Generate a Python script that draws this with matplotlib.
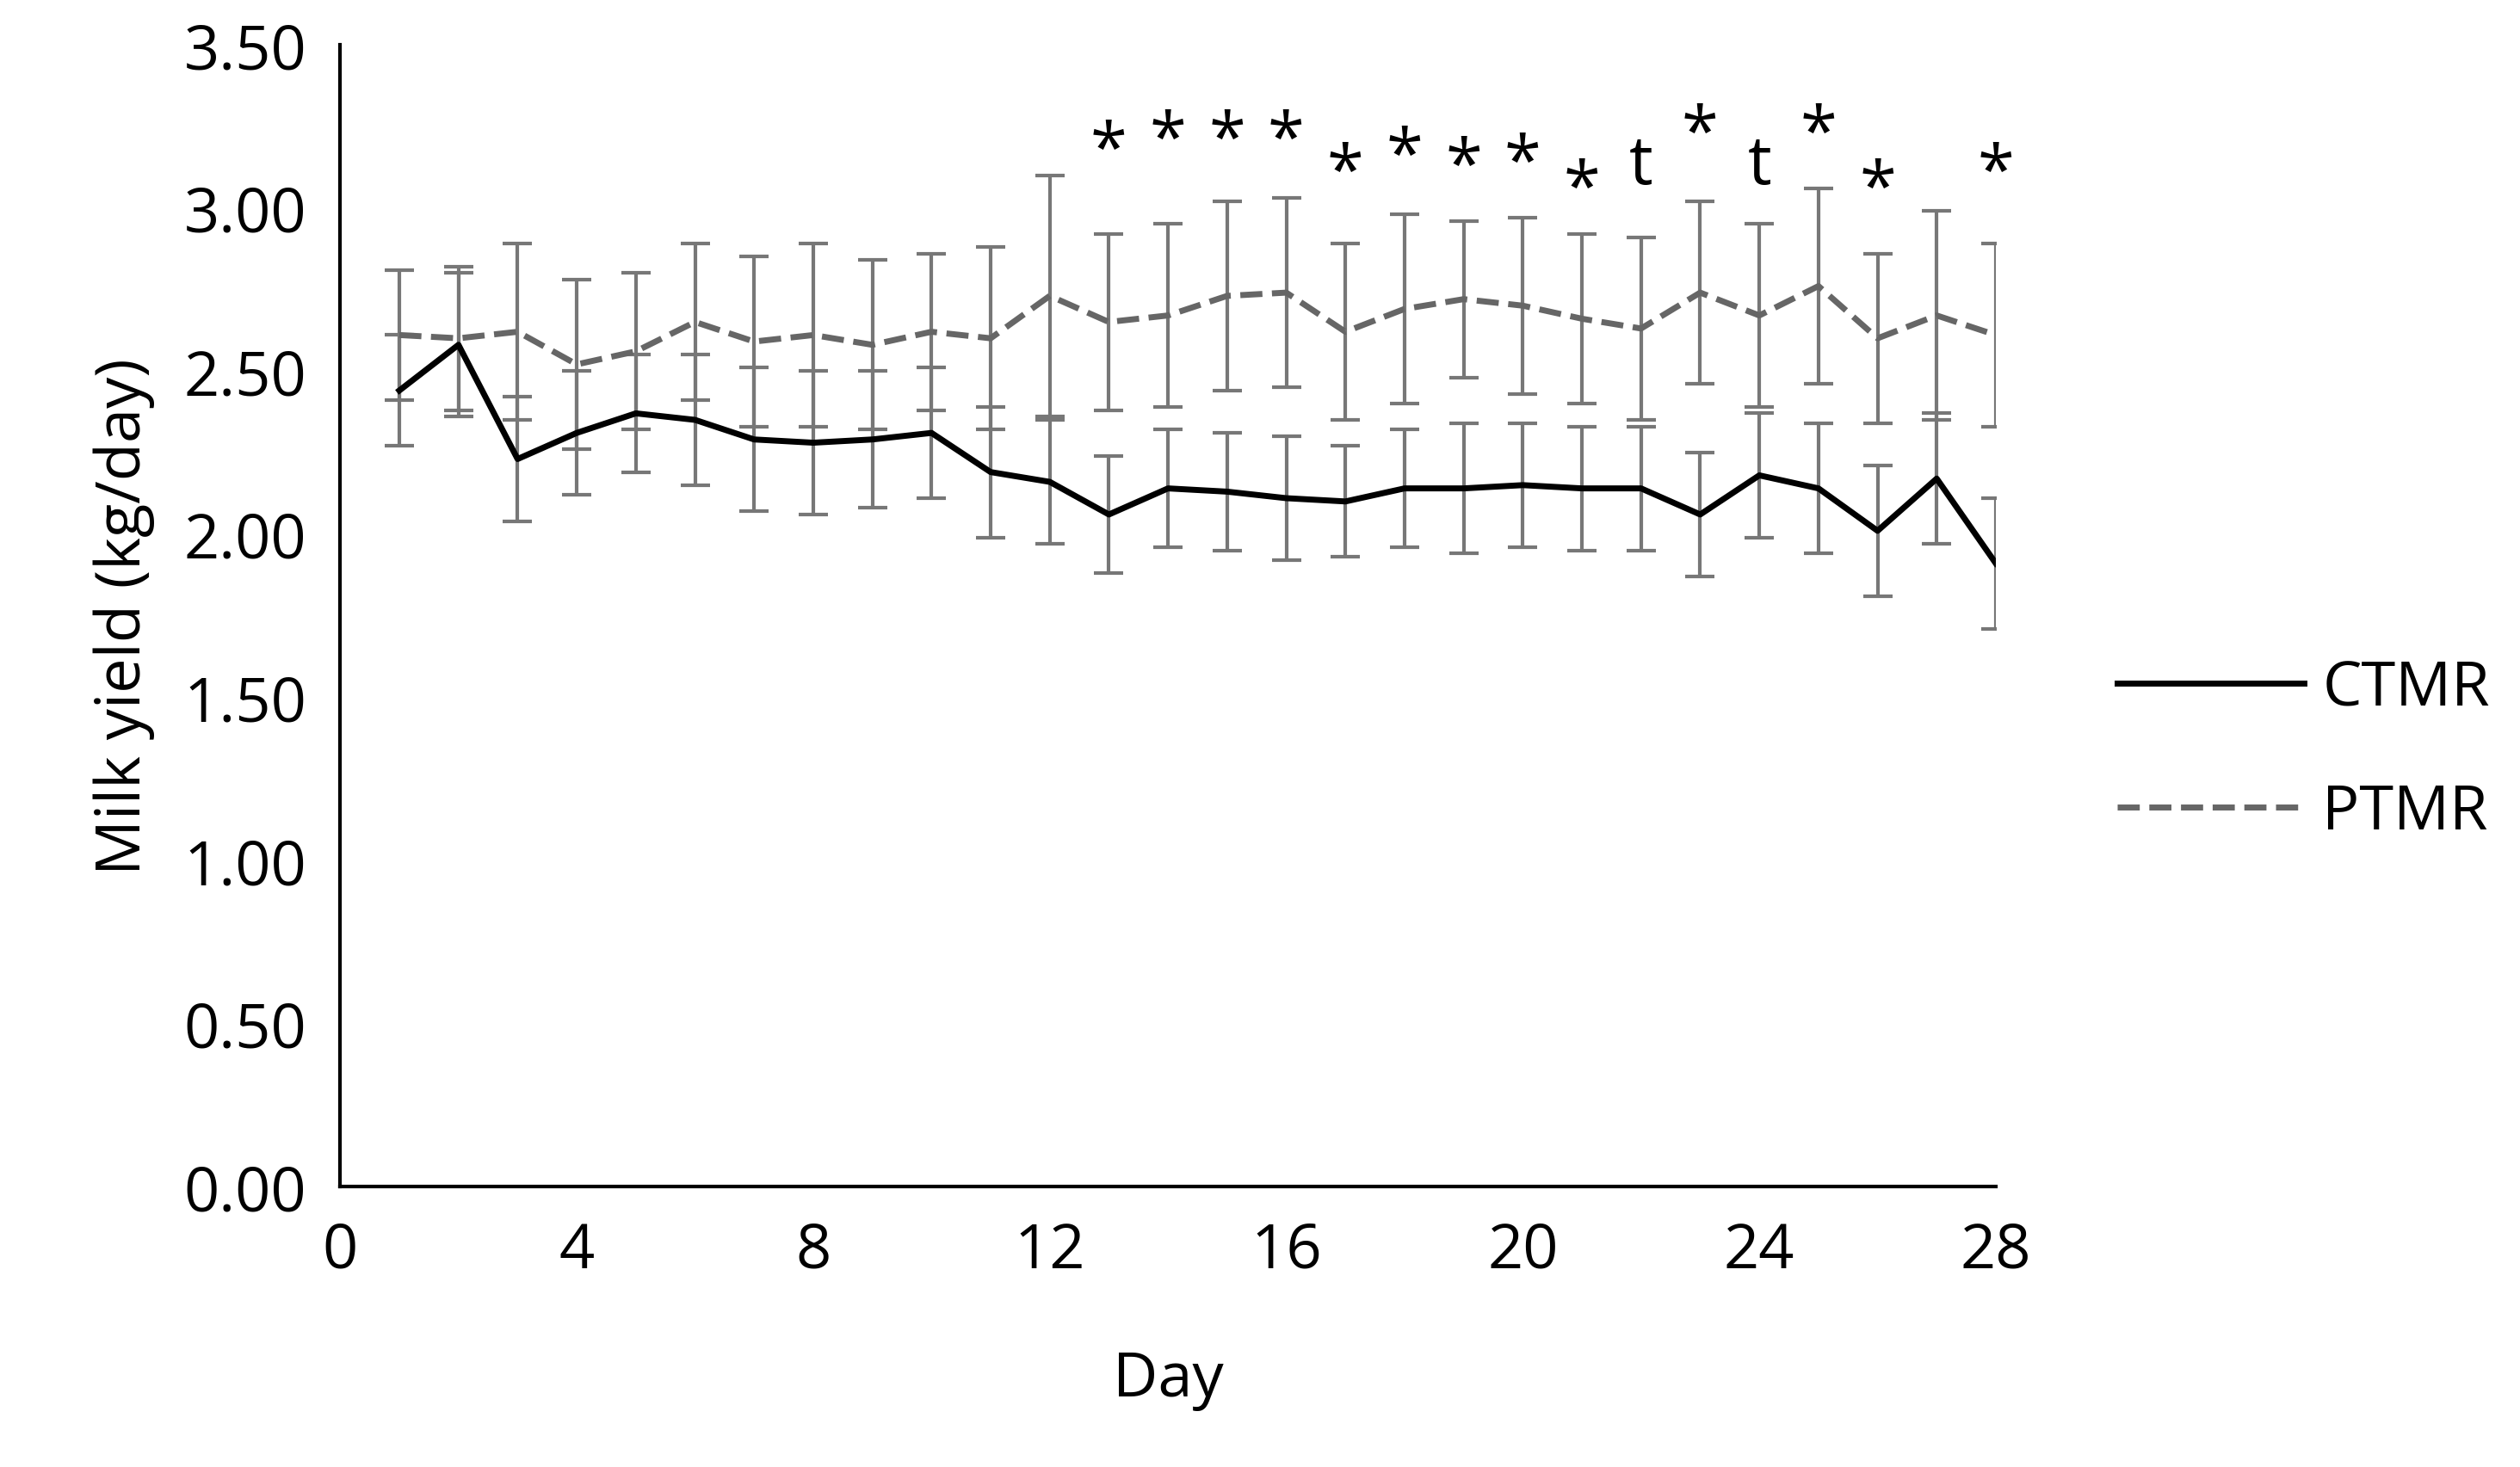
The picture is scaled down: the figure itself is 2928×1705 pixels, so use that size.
import numpy as np
import matplotlib.pyplot as plt
from matplotlib.lines import Line2D

plt.rcParams['font.family'] = ['Open Sans', 'DejaVu Sans']

days = list(range(1, 29))
ctmr = [2.44, 2.58, 2.23, 2.31, 2.37, 2.35, 2.29, 2.28, 2.29, 2.31, 2.19, 2.16, 2.06, 2.14,
        2.13, 2.11, 2.10, 2.14, 2.14, 2.15, 2.14, 2.14, 2.06, 2.18, 2.14, 2.01, 2.17, 1.91]
ctmr_err = [0.17, 0.22, 0.19, 0.19, 0.18, 0.20, 0.22, 0.22, 0.21, 0.20, 0.20, 0.19, 0.18, 0.18,
            0.18, 0.19, 0.17, 0.18, 0.20, 0.19, 0.19, 0.19, 0.19, 0.19, 0.20, 0.20, 0.20, 0.20]
ptmr = [2.61, 2.60, 2.62, 2.52, 2.56, 2.65, 2.59, 2.61, 2.58, 2.62, 2.60, 2.73, 2.65, 2.67,
        2.73, 2.74, 2.62, 2.69, 2.72, 2.70, 2.66, 2.63, 2.74, 2.67, 2.76, 2.60, 2.67, 2.61]
ptmr_err = [0.20, 0.22, 0.27, 0.26, 0.24, 0.24, 0.26, 0.28, 0.26, 0.24, 0.28, 0.37, 0.27, 0.28,
            0.29, 0.29, 0.27, 0.29, 0.24, 0.27, 0.26, 0.28, 0.28, 0.28, 0.30, 0.26, 0.32, 0.28]

mark_days = [13, 14, 15, 16, 17, 18, 19, 20, 21, 22, 23, 24, 25, 26, 28]
mark_text = ['*', '*', '*', '*', '*', '*', '*', '*', '*', 't', '*', 't', '*', '*', '*']
mark_y = [3.17, 3.20, 3.20, 3.20, 3.10, 3.15, 3.12, 3.13, 3.05, 3.13, 3.22, 3.13, 3.22, 3.05, 3.10]

fig = plt.figure(figsize=(14.64, 8.53), dpi=200)
ax = fig.add_axes([0.135, 0.191, 0.657, 0.778])

ax.errorbar(days, ptmr, yerr=ptmr_err, color='#666666', ls='--', lw=2.5,
            ecolor='#777777', elinewidth=1.5, capsize=6, capthick=1.5)
ax.errorbar(days, ctmr, yerr=ctmr_err, color='black', ls='-', lw=2.5,
            ecolor='#777777', elinewidth=1.5, capsize=6, capthick=1.5)

for d, t, y in zip(mark_days, mark_text, mark_y):
    ax.text(d, y, t, ha='center', va='center', fontsize=28)

ax.set_xlim(0, 28)
ax.set_ylim(0, 3.5)
ax.set_xticks(range(0, 29, 4))
ax.set_yticks(np.arange(0, 3.51, 0.5))
ax.set_yticklabels([f'{v:.2f}' for v in np.arange(0, 3.51, 0.5)])
ax.tick_params(labelsize=26, length=0, pad=14)
for s in ['top', 'right']:
    ax.spines[s].set_visible(False)
for s in ['left', 'bottom']:
    ax.spines[s].set_color('black')
    ax.spines[s].set_linewidth(1.5)
ax.set_xlabel('Day', fontsize=26, labelpad=28)
ax.set_ylabel('Milk yield (kg/day)', fontsize=26, labelpad=12)

handles = [Line2D([], [], color='black', lw=2.5),
           Line2D([], [], color='#666666', lw=2.5, ls='--')]
fig.legend(handles, ['CTMR', 'PTMR'], loc='center left', bbox_to_anchor=(0.818, 0.488),
           frameon=False, fontsize=26, handlelength=3.0, labelspacing=1.0, handletextpad=0.3)

fig.savefig('out.png', dpi=200)
